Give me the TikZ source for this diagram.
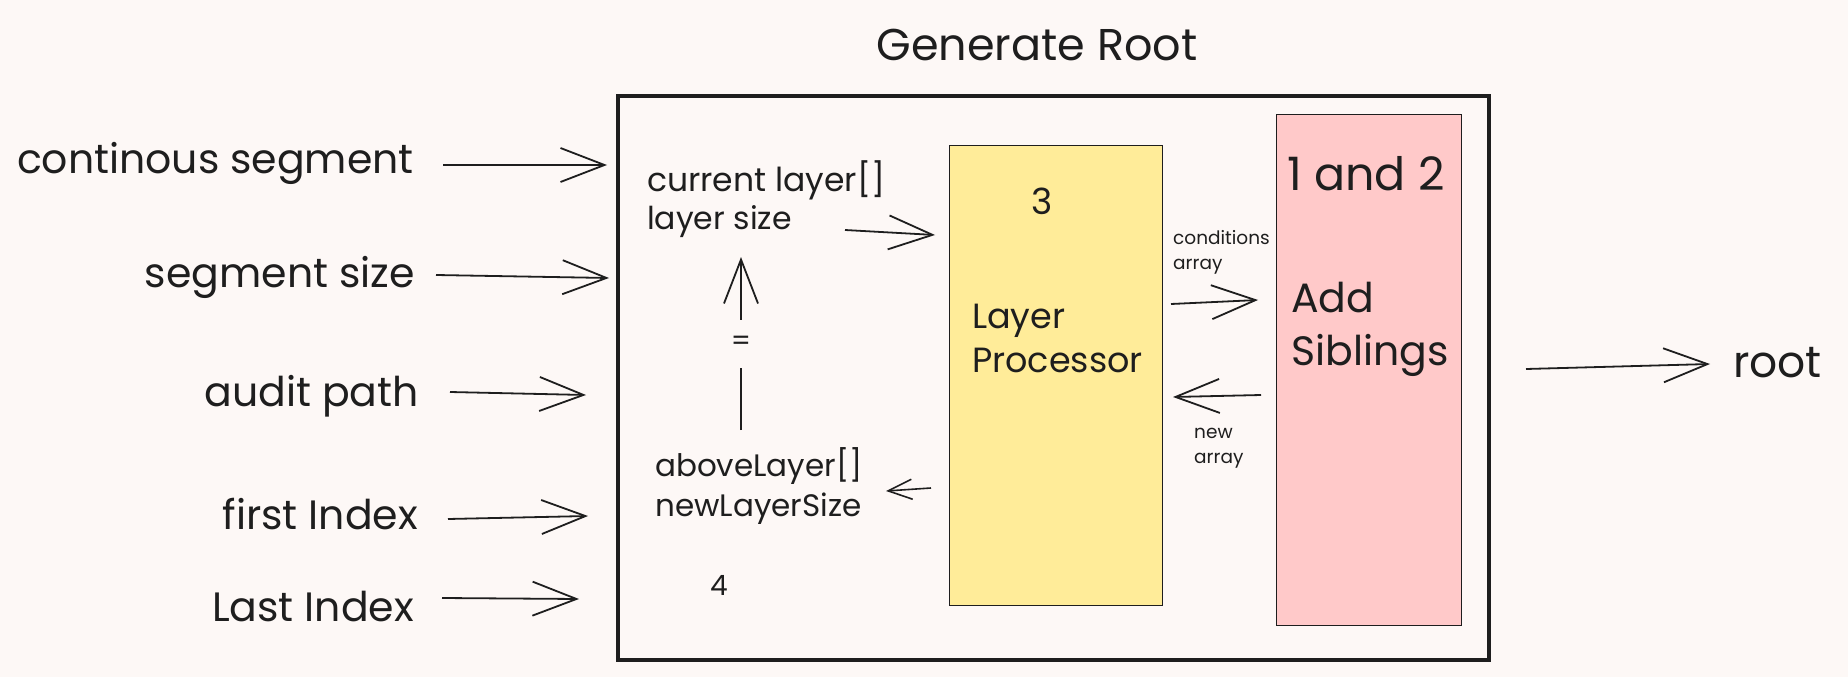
\documentclass[tikz,border=0pt]{standalone}
\usepackage{fontspec}
\setmainfont{Poppins}
\usetikzlibrary{arrows.meta}
\definecolor{bg}{HTML}{FDF8F6}
\definecolor{ink}{HTML}{1E1E1E}
\definecolor{yel}{HTML}{FFEC99}
\definecolor{pnk}{HTML}{FFC9C9}
\newcommand{\fs}[2]{\fontsize{#1pt}{#2pt}\selectfont}
\tikzset{
  lbl/.style={inner sep=0pt, text=ink, anchor=base west},
  biglbl/.style={inner sep=0pt, text=ink, anchor=base east, font=\fs{41}{50}},
  arr/.style={draw=ink, line width=1.8pt, -{Straight Barb[length=44pt,width=34pt,line width=1.8pt]}},
  sarr/.style={draw=ink, line width=1.6pt, -{Straight Barb[length=24pt,width=20pt,line width=1.6pt]}},
  panel/.style={draw=ink, line width=1.4pt, anchor=north west, inner sep=0pt},
}
\begin{document}
\begin{tikzpicture}[x=1pt,y=-1pt]
\fill[bg] (0,0) rectangle (1848,677);
\useasboundingbox (0,0) rectangle (1848,677);

% title
\node[inner sep=0pt, text=ink, anchor=base, font=\fs{44.5}{52}] (title) at (1037,61) {Generate Root};

% outer box
\node[draw=ink, line width=3.5pt, anchor=north west, inner sep=0pt,
      minimum width=871pt, minimum height=564pt] (outer) at (616,94) {};

% panels
\node[panel, fill=yel, minimum width=213pt, minimum height=460pt] (proc) at (949,145) {};
\node[panel, fill=pnk, minimum width=185pt, minimum height=511pt] (sib) at (1276,114) {};

% left labels
\node[biglbl] (l1) at (414,173) {continous segment};
\node[biglbl] (l2) at (415,287) {segment size};
\node[biglbl] (l3) at (419,406) {audit path};
\node[biglbl] (l4) at (418,529) {first Index};
\node[biglbl] (l5) at (414,621) {Last Index};

\coordinate (s1) at (443,165);
\coordinate (s2) at (436,275);
\coordinate (s3) at (450,392);
\coordinate (s4) at (448,519);
\coordinate (s5) at (442,598);
\coordinate (e1) at (607,165);
\coordinate (e2) at (609,278);
\coordinate (e3) at (586,395);
\coordinate (e4) at (588,516);
\coordinate (e5) at (579,599);
\draw[arr] (s1) -- (e1);
\draw[arr] (s2) -- (e2);
\draw[arr] (s3) -- (e3);
\draw[arr] (s4) -- (e4);
\draw[arr] (s5) -- (e5);

% inner texts (left part)
\node[lbl, font=\fs{33}{38}] (cur) at (647,191) {current layer[]};
\node[lbl, font=\fs{31.5}{38}] (lsz) at (647,229) {layer size};
\node[lbl, font=\fs{31}{38}] (abv) at (655,476) {aboveLayer[]};
\node[lbl, font=\fs{31}{38}] (nls) at (655,516) {newLayerSize};
\node[inner sep=0pt, text=ink, anchor=base, font=\fs{28}{34}] (four) at (719,595) {4};

% processor texts
\node[inner sep=0pt, text=ink, anchor=base, font=\fs{36}{44}] (three) at (1042,214) {3};
\node[lbl, font=\fs{35}{44}] (lay) at (972,328) {Layer};
\node[lbl, font=\fs{35}{44}] (pro) at (972,372) {Processor};

% siblings texts
\node[lbl, font=\fs{46}{52}] (onetwo) at (1287,190) {1 and 2};
\node[lbl, font=\fs{41}{52}] (add) at (1291,312) {Add};
\node[lbl, font=\fs{41}{52}] (sibs) at (1291,365) {Siblings};

% small labels
\node[lbl, font=\fs{18.5}{24}] (cond) at (1173,244) {conditions};
\node[lbl, font=\fs{18.5}{24}] (carr) at (1173,269) {array};
\node[lbl, font=\fs{18.5}{24}] (newl) at (1194,438) {new};
\node[lbl, font=\fs{18.5}{24}] (narr) at (1194,463) {array};

% root
\node[lbl, font=\fs{44}{50}] (root) at (1733,377) {root};

% inner connectors
\coordinate (ls1) at (845,230);
\coordinate (ls2) at (935,235);
\draw[arr] (ls1) -- (ls2);
\coordinate (ub) at (741,430);
\coordinate (ut) at (741,257);
\draw[arr] (ub) -- node[fill=bg, inner sep=0pt, minimum height=48pt, text=ink, font=\fs{28}{34}] (eq) {=} (ut);
\coordinate (ab1) at (931,488);
\coordinate (ab2) at (886,491);
\draw[sarr] (ab1) -- (ab2);
\coordinate (c1) at (1171,304);
\coordinate (c2) at (1258,300);
\draw[arr] (c1) -- (c2);
\coordinate (n1) at (1261,395);
\coordinate (n2) at (1173,397);
\draw[arr] (n1) -- (n2);
\coordinate (r1) at (1526,369);
\coordinate (r2) at (1710,364);
\draw[arr] (r1) -- (r2);
\end{tikzpicture}
\end{document}
